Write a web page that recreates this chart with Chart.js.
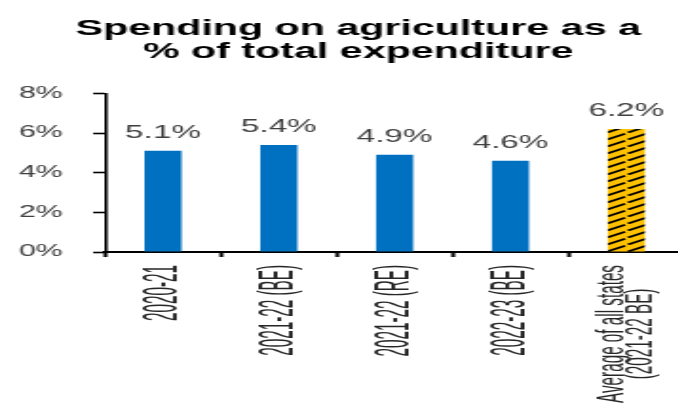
<!DOCTYPE html>
<html>
<head>
<meta charset="utf-8">
<title>Spending on agriculture</title>
<script src="https://cdn.jsdelivr.net/npm/chart.js@4/dist/chart.umd.min.js"></script>
<style>
  html, body { margin: 0; padding: 0; background: #fff; overflow: hidden; }
  body { width: 678px; height: 403px; }
  /* the whole figure is drawn narrow and widened sideways */
  #wrap { width: 377px; height: 403px; transform: scaleX(1.9); transform-origin: 0 0; }
</style>
</head>
<body>
<div id="wrap"><canvas id="agriChart"></canvas></div>
<script>
// ================= DATA =================
const categories = ['2020-21', '2021-22 (BE)', '2021-22 (RE)', '2022-23 (BE)', ['Average of all states', '(2021-22 BE)']];
const shares = [5.1, 5.4, 4.9, 4.6, 6.2];       // % of total expenditure
const yTickValues = [0, 2, 4, 6, 8];
const titleLines = ['Spending on agriculture as a', '% of total expenditure'];

const FONT = '"Liberation Sans", Arial, Helvetica, sans-serif';
const BLUE = '#0070C0';
const GOLD = '#FFC000';

// hatched fill for the all-states average bar
function makeHatch() {
    const tile = document.createElement('canvas');
    tile.width = 11; tile.height = 7;
    const c = tile.getContext('2d');
    c.fillStyle = GOLD;
    c.fillRect(0, 0, 11, 7);
    c.strokeStyle = '#000';
    c.lineWidth = 1.7;
    c.beginPath();
    c.moveTo(0.5, 6.6);
    c.lineTo(10, 0.8);
    c.stroke();
    return c.createPattern(tile, 'repeat');
}

// centre the title over the full canvas, not just the padded area
const titleSpan = {
    id: 'titleSpan',
    afterLayout(chart) {
        const t = chart.titleBlock;
        if (!t) return;
        t.left = 0;
        t.right = chart.width;
        t.width = chart.width;
    }
};

// value labels over each bar
const valueLabels = {
    id: 'valueLabels',
    afterDatasetsDraw(chart) {
        const ctx = chart.ctx;
        const meta = chart.getDatasetMeta(0);
        ctx.save();
        ctx.font = '17.5px ' + FONT;
        ctx.fillStyle = '#404040';
        ctx.textAlign = 'center';
        ctx.textBaseline = 'alphabetic';
        meta.data.forEach((bar, i) => {
            ctx.fillText(shares[i].toFixed(1) + '%', bar.x, bar.y - 13);
        });
        ctx.restore();
    }
};

// upright, condensed category labels under the x axis
const categoryLabels = {
    id: 'categoryLabels',
    afterDraw(chart) {
        const ctx = chart.ctx;
        const xs = chart.scales.x;
        const readScale = 0.61;
        ctx.save();
        ctx.font = '25px ' + FONT;
        ctx.fillStyle = '#262626';
        ctx.textAlign = 'center';
        ctx.textBaseline = 'middle';
        categories.forEach((lab, i) => {
            const lines = Array.isArray(lab) ? lab : [lab];
            const glyphScale = lines.length > 1 ? 0.8 : 1.05;
            const pitch = 15;
            const widths = lines.map(t => ctx.measureText(t).width * readScale);
            const maxW = Math.max(...widths);
            const cy = xs.top + 13 + maxW / 2;
            const x0 = xs.getPixelForValue(i);
            lines.forEach((t, j) => {
                ctx.save();
                ctx.translate(x0 + (j - (lines.length - 1) / 2) * pitch, cy);
                ctx.rotate(-Math.PI / 2);
                ctx.scale(readScale, glyphScale);
                ctx.fillText(t, 0, 0);
                ctx.restore();
            });
        });
        ctx.restore();
    }
};

function initChart() {
    const ctx = document.getElementById('agriChart').getContext('2d');
    const hatch = makeHatch();
    const fills = shares.map((v, i) => i === shares.length - 1 ? hatch : BLUE);

    new Chart(ctx, {
        type: 'bar',
        data: {
            labels: categories,
            datasets: [{
                data: shares,
                backgroundColor: fills,
                borderWidth: 0,
                barPercentage: 0.32,
                categoryPercentage: 1.0
            }]
        },
        options: {
            responsive: true,
            maintainAspectRatio: false,
            animation: false,
            layout: { padding: { left: 0, right: 16.9, top: 0, bottom: 146 } },
            plugins: {
                legend: { display: false },
                tooltip: { enabled: false },
                title: {
                    display: true,
                    text: titleLines,
                    color: '#000',
                    font: { family: FONT, size: 21.7, weight: 'bold', lineHeight: 1.05 },
                    padding: { top: 18, bottom: 29.8 }
                }
            },
            scales: {
                x: {
                    grid: {
                        offset: true,
                        drawOnChartArea: false,
                        drawTicks: true,
                        tickLength: 5,
                        tickWidth: 2,
                        color: '#000'
                    },
                    border: { color: '#000', width: 2 },
                    ticks: { display: false }
                },
                y: {
                    min: yTickValues[0],
                    max: yTickValues[yTickValues.length - 1],
                    afterBuildTicks: axis => {
                        axis.ticks = yTickValues.map(v => ({ value: v }));
                    },
                    afterFit: axis => { axis.width = 55.3; },
                    grid: {
                        drawOnChartArea: false,
                        drawTicks: true,
                        tickLength: 6.3,
                        tickWidth: 1.6,
                        color: '#000'
                    },
                    border: { color: '#000', width: 1.6 },
                    ticks: {
                        padding: 16,
                        color: '#404040',
                        font: { family: FONT, size: 16 },
                        callback: v => v + '%'
                    }
                }
            }
        },
        plugins: [titleSpan, valueLabels, categoryLabels]
    });
}

window.onload = initChart;
</script>
</body>
</html>
